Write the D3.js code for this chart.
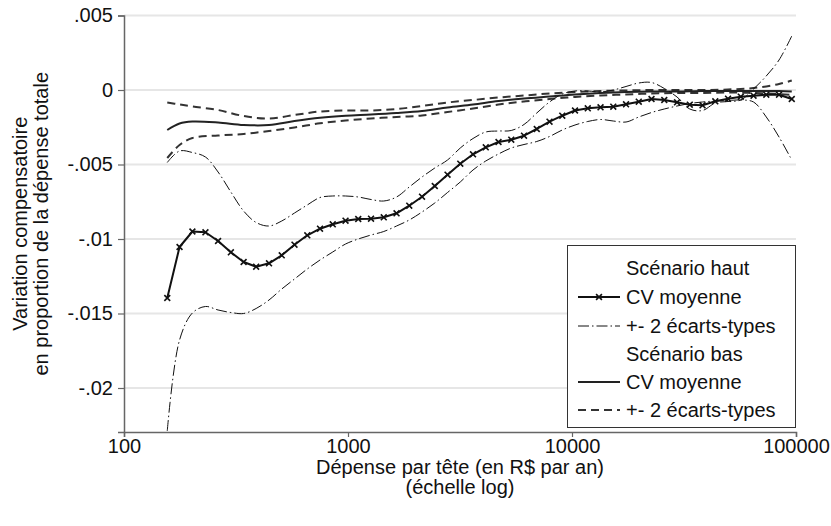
<!DOCTYPE html>
<html><head><meta charset="utf-8">
<script src="https://cdn.jsdelivr.net/npm/d3@7/dist/d3.min.js"></script>
<style>body{margin:0;background:#fff}svg{display:block}text{font-family:"Liberation Sans",Arial,sans-serif}</style>
</head><body>
<svg id="c" width="831" height="526"></svg>
<script>
// Expenditure grid (R$ per year), log scale
const depense = [156,177,202,231,263,300,342,389,444,506,577,658,750,855,975,1111,1267,1444,1647,1877,2140,2440,2782,3171,3615,4121,4698,5356,6106,6962,7937,9048,10314,11760,13408,15285,17425,19865,22646,25821,29436,33557,38256,43612,49727,56690,64627,73672,83988,95742];
// Scénario haut
const hautMoy = [-0.01396,-0.010537,-0.009497,-0.00955,-0.010134,-0.010893,-0.011544,-0.011859,-0.011631,-0.011094,-0.010383,-0.009752,-0.009309,-0.009013,-0.008772,-0.008658,-0.008638,-0.008544,-0.008275,-0.007765,-0.007161,-0.006443,-0.005685,-0.004946,-0.004315,-0.003846,-0.00349,-0.003336,-0.003067,-0.002617,-0.002128,-0.001725,-0.001376,-0.001228,-0.001161,-0.001121,-0.00096,-0.000785,-0.000604,-0.000671,-0.000826,-0.000987,-0.001027,-0.000758,-0.000584,-0.00045,-0.000383,-0.000315,-0.000315,-0.000604];
const hautSup = [-0.004866,-0.004094,-0.004195,-0.004497,-0.005503,-0.006846,-0.008121,-0.008893,-0.009128,-0.008792,-0.008255,-0.007718,-0.007215,-0.007114,-0.007114,-0.007181,-0.007349,-0.00745,-0.007181,-0.00651,-0.005839,-0.005235,-0.004698,-0.003893,-0.003255,-0.002819,-0.002752,-0.002718,-0.002315,-0.001544,-0.000805,-0.000268,-0.000067,-0.000067,-0.000134,0,0.000235,0.00047,0.000503,0.000101,-0.00047,-0.001275,-0.001376,-0.000872,-0.000772,-0.000671,0.000067,0.00094,0.002013,0.003624];
const hautInf = [-0.022886,-0.016779,-0.014966,-0.01453,-0.014765,-0.014933,-0.015,-0.014664,-0.014094,-0.013356,-0.012685,-0.012013,-0.011409,-0.010872,-0.010336,-0.01,-0.009732,-0.009497,-0.009128,-0.008725,-0.008188,-0.007584,-0.006879,-0.006174,-0.005369,-0.004765,-0.004295,-0.003893,-0.003658,-0.003456,-0.003121,-0.002685,-0.002349,-0.002114,-0.00198,-0.002081,-0.002148,-0.001812,-0.00151,-0.001275,-0.001074,-0.000906,-0.000805,-0.000738,-0.000705,-0.000671,-0.000805,-0.001812,-0.003154,-0.004698];
// Scénario bas
const depenseBas = [156,177,202,263,342,444,577,750,975,1267,1647,2140,2782,3615,4698,6106,7937,10314,13408,17425,22646,29436,38256,49727,64627,83988,95742];
const basMoy = [-0.002685,-0.002248,-0.002114,-0.002181,-0.002349,-0.002349,-0.002081,-0.001862,-0.001725,-0.001644,-0.001544,-0.001409,-0.001174,-0.000973,-0.000738,-0.00057,-0.000436,-0.000302,-0.000201,-0.000134,-0.000101,-0.000101,-0.000067,-0.000067,-0.000067,-0.000067,-0.000101];
const basSup = [-0.000839,-0.000973,-0.001107,-0.001342,-0.001745,-0.001913,-0.001678,-0.001443,-0.001376,-0.001376,-0.001275,-0.001074,-0.000839,-0.000671,-0.000503,-0.000369,-0.000235,-0.000134,-0.000067,-0.000034,0,0,0,0.000034,0.000134,0.000403,0.000638];
const basInf = [-0.004564,-0.003691,-0.003221,-0.003054,-0.002953,-0.002752,-0.002517,-0.002235,-0.002047,-0.001913,-0.001812,-0.001711,-0.001477,-0.001242,-0.000973,-0.000772,-0.000604,-0.00047,-0.000369,-0.000302,-0.000235,-0.000201,-0.000201,-0.000168,-0.000201,-0.000268,-0.000336];
// Ticks
const xTicks = [100,1000,10000,100000];
const yTicks = [0.005,0,-0.005,-0.01,-0.015,-0.02];
const yTickLabels = [".005","0","-.005","-.01","-.015","-.02"];
const legendLabels = ["Scénario haut","CV moyenne","+- 2 écarts-types","Scénario bas","CV moyenne","+- 2 écarts-types"];

const FS = 20;
const svg = d3.select("#c");
const L=124, R=796, T=15.5, B=432;
const x = d3.scaleLog().domain([100,100000]).range([L,R]);
const y = d3.scaleLinear().domain([-0.022953,0.005]).range([B,T]);

// grid
svg.append("g").selectAll("line").data(yTicks).join("line")
  .attr("x1",L).attr("x2",R).attr("y1",d=>y(d)).attr("y2",d=>y(d))
  .attr("stroke","#e6e6e6").attr("stroke-width",2);

// axes
const ya = svg.append("g").attr("transform",`translate(${L},0)`)
  .call(d3.axisLeft(y).tickValues(yTicks).tickFormat((d,i)=>yTickLabels[i]).tickSize(6).tickPadding(5));
const xa = svg.append("g").attr("transform",`translate(0,${B})`)
  .call(d3.axisBottom(x).tickValues(xTicks).tickFormat(d3.format("d")).tickSize(5).tickPadding(2));
[ya,xa].forEach(a=>{
  a.select(".domain").attr("stroke","#666").attr("stroke-width",1.5);
  a.selectAll(".tick line").attr("stroke","#666").attr("stroke-width",1.2);
  a.selectAll("text").attr("font-size",FS).attr("fill","#111").style("font-family","Liberation Sans, Arial, sans-serif");
});

svg.append("clipPath").attr("id","pc").append("rect").attr("x",L).attr("y",T-5).attr("width",R-L+5).attr("height",B-T+5);
const plot = svg.append("g").attr("clip-path","url(#pc)");

function mk(xs, ys){ return xs.map((v,i)=>[v,ys[i]]); }
const line = d3.line().x(d=>x(d[0])).y(d=>y(d[1])).curve(d3.curveCatmullRom.alpha(0.5));
const lineLin = d3.line().x(d=>x(d[0])).y(d=>y(d[1]));

const styles = {
  hautBand:{stroke:"#111",w:1,dash:"11,3,1.5,3"},
  basMean:{stroke:"#222",w:2,dash:null},
  basBand:{stroke:"#333",w:2,dash:"8,5"},
  hautMean:{stroke:"#111",w:2,dash:null}
};
function draw(data, st, gen){
  plot.append("path").attr("d",gen(data)).attr("fill","none")
    .attr("stroke",st.stroke).attr("stroke-width",st.w)
    .attr("stroke-dasharray",st.dash).attr("stroke-linejoin","round");
}
draw(mk(depenseBas,basSup),styles.basBand,line);
draw(mk(depenseBas,basInf),styles.basBand,line);
draw(mk(depenseBas,basMoy),styles.basMean,line);
draw(mk(depense,hautSup),styles.hautBand,line);
draw(mk(depense,hautInf),styles.hautBand,line);
draw(mk(depense,hautMoy),styles.hautMean,lineLin);
const cross = d3.symbol().type(d3.symbolX).size(24);
plot.append("g").selectAll("path").data(mk(depense,hautMoy)).join("path")
  .attr("transform",d=>`translate(${x(d[0])},${y(d[1])})`)
  .attr("d",cross).attr("fill","none").attr("stroke","#111").attr("stroke-width",1.6);

// legend
const lg = svg.append("g");
lg.append("rect").attr("x",567.5).attr("y",245.5).attr("width",228).attr("height",182)
  .attr("fill","#fff").attr("stroke","#333").attr("stroke-width",1);
const rowY = [268,297,326,354,382,410];
const sampleSt = [null,styles.hautMean,styles.hautBand,null,styles.basMean,styles.basBand];
legendLabels.forEach((t,i)=>{
  lg.append("text").attr("x",626).attr("y",rowY[i]).attr("dy","0.35em")
    .attr("font-size",FS).attr("fill","#111").text(t);
  const st = sampleSt[i];
  if(st){
    lg.append("line").attr("x1",578).attr("x2",620).attr("y1",rowY[i]).attr("y2",rowY[i])
      .attr("stroke",st.stroke).attr("stroke-width",st.w).attr("stroke-dasharray",st.dash);
    if(i===1) lg.append("path").attr("transform",`translate(599,${rowY[i]})`).attr("d",cross)
      .attr("fill","none").attr("stroke","#111").attr("stroke-width",1.6);
  }
});

// axis titles
svg.append("text").attr("x",(L+R)/2).attr("y",474).attr("text-anchor","middle").attr("font-size",FS).attr("fill","#111").text("Dépense par tête (en R$ par an)");
svg.append("text").attr("x",(L+R)/2).attr("y",494).attr("text-anchor","middle").attr("font-size",FS).attr("fill","#111").text("(échelle log)");
const yt = svg.append("g").attr("transform",`translate(0,${(T+B)/2}) rotate(-90)`);
yt.append("text").attr("x",0).attr("y",27).attr("text-anchor","middle").attr("font-size",FS).attr("fill","#111").text("Variation compensatoire");
yt.append("text").attr("x",0).attr("y",48).attr("text-anchor","middle").attr("font-size",FS).attr("fill","#111").text("en proportion de la dépense totale");
</script>
</body></html>
